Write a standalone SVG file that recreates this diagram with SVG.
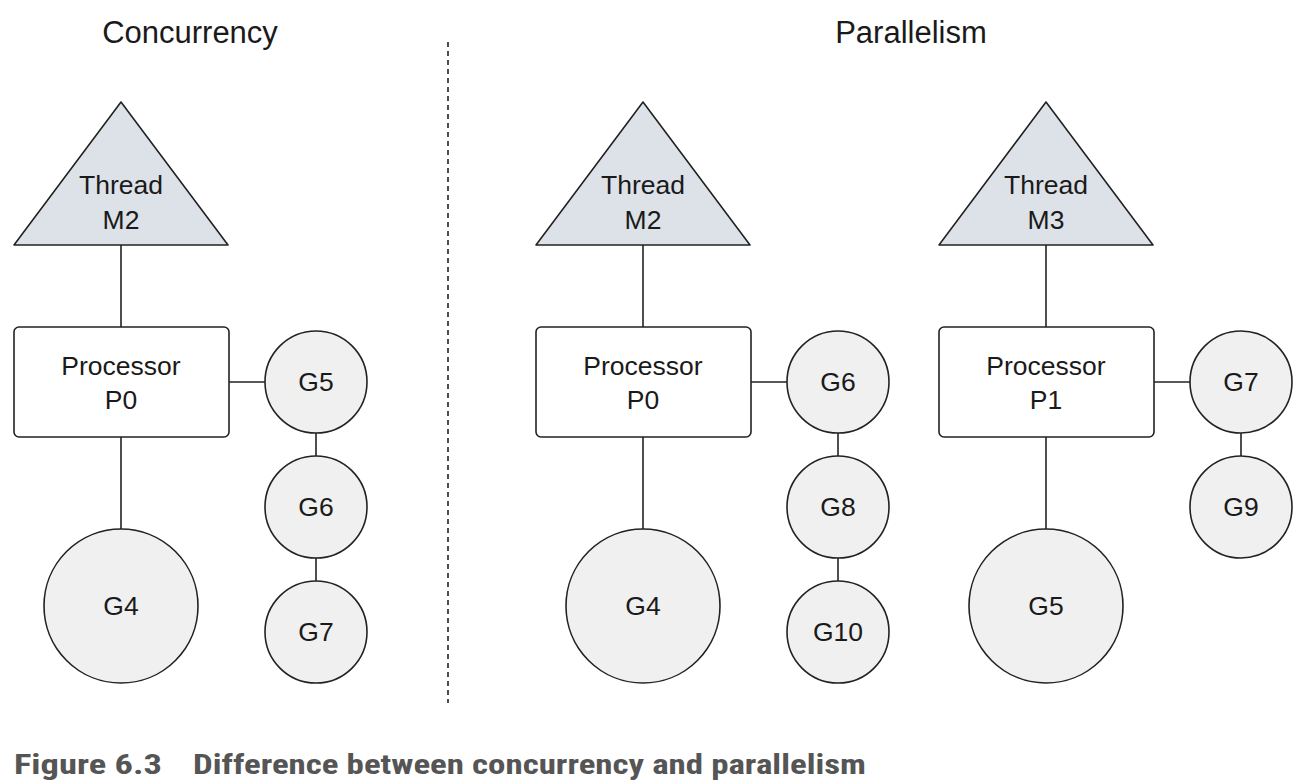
<svg xmlns="http://www.w3.org/2000/svg" width="1314" height="782" viewBox="0 0 1314 782">
<style>
.t{font-family:"Liberation Sans",Arial,sans-serif;font-size:26.5px;fill:#1a1a1a;text-anchor:middle}
.h{font-family:"Liberation Sans",Arial,sans-serif;font-size:31px;fill:#1a1a1a;text-anchor:middle}
.tri{fill:#dde1e8;stroke:#222;stroke-width:1.6;stroke-linejoin:round}
.box{fill:#fff;stroke:#222;stroke-width:1.6}
.g{fill:#f0f0f0;stroke:#222;stroke-width:1.6}
.c{stroke:#222;stroke-width:1.6;fill:none}
.cap{font-family:"Liberation Sans Narrow","Roboto Condensed","Liberation Sans",sans-serif;font-weight:bold;font-size:28px;fill:#555}
</style>
<rect width="1314" height="782" fill="#fff"/>
<text class="h" x="190" y="43">Concurrency</text>
<text class="h" x="911" y="43">Parallelism</text>
<line x1="448" y1="42" x2="448" y2="703" stroke="#222" stroke-width="1.6" stroke-dasharray="5,4"/>
<g id="connectors">
<line class="c" x1="121" y1="245" x2="121" y2="327"/>
<line class="c" x1="121" y1="437" x2="121" y2="529"/>
<line class="c" x1="229" y1="382" x2="265" y2="382"/>
<line class="c" x1="316" y1="433" x2="316" y2="456"/>
<line class="c" x1="316" y1="558" x2="316" y2="582"/>
<line class="c" x1="643" y1="245" x2="643" y2="327"/>
<line class="c" x1="643" y1="437" x2="643" y2="529"/>
<line class="c" x1="751" y1="382" x2="787" y2="382"/>
<line class="c" x1="838" y1="433" x2="838" y2="456"/>
<line class="c" x1="838" y1="558" x2="838" y2="582"/>
<line class="c" x1="1046" y1="245" x2="1046" y2="327"/>
<line class="c" x1="1046" y1="437" x2="1046" y2="529"/>
<line class="c" x1="1154" y1="382" x2="1190" y2="382"/>
<line class="c" x1="1241" y1="433" x2="1241" y2="456"/>
</g>
<g id="threadM2a"><path class="tri" d="M121 102 L228 245 L14 245 Z"/><text class="t" x="121" y="194">Thread</text><text class="t" x="121" y="229">M2</text></g>
<g id="procP0a"><rect class="box" x="14" y="327" width="215" height="110" rx="5"/><text class="t" x="121" y="375">Processor</text><text class="t" x="121" y="409">P0</text></g>
<g id="G4a"><circle class="g" cx="121" cy="606" r="77"/><text class="t" x="121" y="615">G4</text></g>
<g id="G5a"><circle class="g" cx="316" cy="382" r="51"/><text class="t" x="316" y="391">G5</text></g>
<g id="G6a"><circle class="g" cx="316" cy="507" r="51"/><text class="t" x="316" y="516">G6</text></g>
<g id="G7a"><circle class="g" cx="316" cy="632" r="51"/><text class="t" x="316" y="641">G7</text></g>

<g id="threadM2b"><path class="tri" d="M643 102 L750 245 L536 245 Z"/><text class="t" x="643" y="194">Thread</text><text class="t" x="643" y="229">M2</text></g>
<g id="procP0b"><rect class="box" x="536" y="327" width="215" height="110" rx="5"/><text class="t" x="643" y="375">Processor</text><text class="t" x="643" y="409">P0</text></g>
<g id="G4b"><circle class="g" cx="643" cy="606" r="77"/><text class="t" x="643" y="615">G4</text></g>
<g id="G6b"><circle class="g" cx="838" cy="382" r="51"/><text class="t" x="838" y="391">G6</text></g>
<g id="G8b"><circle class="g" cx="838" cy="507" r="51"/><text class="t" x="838" y="516">G8</text></g>
<g id="G10b"><circle class="g" cx="838" cy="632" r="51"/><text class="t" x="838" y="641">G10</text></g>

<g id="threadM3"><path class="tri" d="M1046 102 L1153 245 L939 245 Z"/><text class="t" x="1046" y="194">Thread</text><text class="t" x="1046" y="229">M3</text></g>
<g id="procP1"><rect class="box" x="939" y="327" width="215" height="110" rx="5"/><text class="t" x="1046" y="375">Processor</text><text class="t" x="1046" y="409">P1</text></g>
<g id="G5c"><circle class="g" cx="1046" cy="606" r="77"/><text class="t" x="1046" y="615">G5</text></g>
<g id="G7c"><circle class="g" cx="1241" cy="382" r="51"/><text class="t" x="1241" y="391">G7</text></g>
<g id="G9c"><circle class="g" cx="1241" cy="507" r="51"/><text class="t" x="1241" y="516">G9</text></g>

<text class="cap" x="14" y="774" textLength="148" lengthAdjust="spacingAndGlyphs">Figure 6.3</text>
<text class="cap" x="193" y="774" textLength="673" lengthAdjust="spacingAndGlyphs">Difference between concurrency and parallelism</text>
</svg>
